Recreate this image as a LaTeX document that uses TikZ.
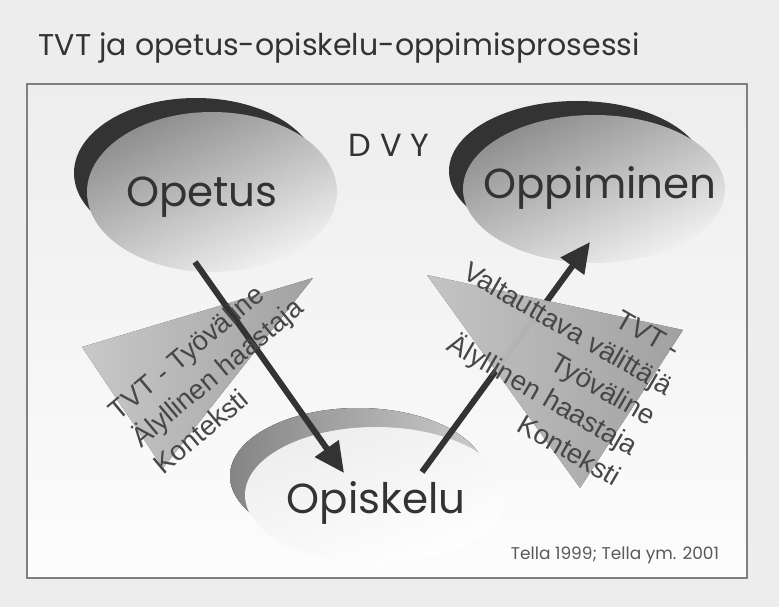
\documentclass[tikz,border=0pt]{standalone}
\usepackage{fontspec}
\setmainfont{Poppins}
\newfontfamily\arialfont{Liberation Sans}
\usetikzlibrary{arrows.meta}
\definecolor{fondo}{HTML}{EDEDED}
\definecolor{tinta}{HTML}{333333}
\tikzset{
  burbuja/.style={top color=black!45,middle color=black!20,bottom color=black!5,shading angle=25},
  rotulo/.style={text=tinta,font=\fontsize{42}{46}\selectfont},
  sombra/.style={fill=black!80},
  flecha/.style={draw=tinta,line width=6pt,-{Triangle[length=30pt,width=28pt]}},
  cuna/.style={opacity=0.85},
  lista/.style={text=black!72,font=\arialfont\fontsize{27.5}{35}\selectfont}
}
\begin{document}
\begin{tikzpicture}[x=1pt,y=-1pt]
  \useasboundingbox (0,0) rectangle (779,607);
  % Fondo y marco
  \fill[fondo] (0,0) rectangle (779,607);
  \draw[black!50,line width=1.5pt,top color=black!7,bottom color=black!1] (27,84) rectangle (747,578);

  % Titulo
  \node[anchor=base west,text=tinta,font=\fontsize{30}{36}\selectfont] (titulo) at (35,56) {TVT ja opetus-opiskelu-oppimisprosessi};

  % Elipses con sombra
  \fill[sombra] (196,173) ellipse (122 and 75);
  \shade[burbuja] (212,192) ellipse (125 and 80);
  \node[rotulo] (opetus) at (202,197) {Opetus};
  \fill[sombra] (577,171) ellipse (128 and 70);
  \shade[burbuja] (594,189) ellipse (131 and 74);
  \node[rotulo] (oppiminen) at (600,188) {Oppiminen};
  \fill[left color=black!48,right color=black!20] (358,476) ellipse (128 and 68);
  \shade[left color=black!7,right color=white,shading angle=20] (376,495) ellipse (131 and 68);
  \node[rotulo] (opiskelu) at (376,503) {Opiskelu};

  % Flecha hacia Oppiminen (queda detras de la cuna)
  \draw[flecha] ([shift={(46,-31)}]opiskelu.center) -- ([shift={(-10,54)}]oppiminen.center);

  % Cunas
  \fill[cuna,left color=black!12,right color=black!28] (427,275) -- (683,330) -- (580,488) -- cycle;
  \fill[cuna,left color=black!10,right color=black!28] (82,347) -- (313,278) -- (163,468) -- cycle;

  % Flecha desde Opetus
  \draw[flecha] ([shift={(-7,65)}]opetus.center) -- ([shift={(-32,-30)}]opiskelu.center);

  % Etiquetas
  \node[lista,rotate=40,align=left] (izq) at (217,372) {TVT - Työväline\\Älyllinen haastaja\\Konteksti};
  \node[lista,rotate=-30,align=right] (der) at (551,359) {TVT -\kern12pt\\Valtauttava välittäjä\\Työväline\\Älyllinen haastaja\\Konteksti};
  \node[text=tinta,font=\fontsize{32}{36}\selectfont] (dvy) at (389,145) {D V Y};
  \node[text=black!65,font=\fontsize{17}{20}\selectfont] (fuente) at (615,555) {Tella 1999; Tella ym. 2001};
\end{tikzpicture}
\end{document}
